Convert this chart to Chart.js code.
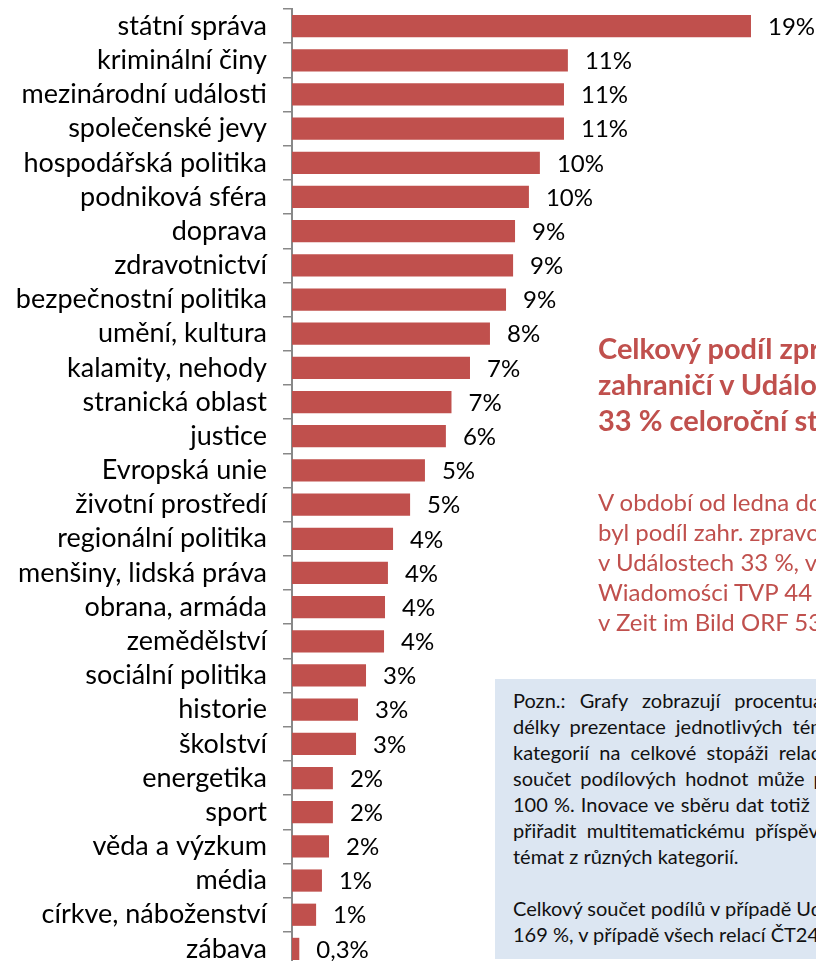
<!DOCTYPE html>
<html lang="cs">
<head>
<meta charset="utf-8">
<script src="https://cdn.jsdelivr.net/npm/chart.js@4.4.1/dist/chart.umd.min.js"></script>
<style>
  html, body { margin: 0; padding: 0; background: #fff; overflow: hidden; }
  #wrap { position: relative; width: 816px; height: 961px; overflow: hidden; }
  #chartBox { position: absolute; left: 0; top: 0; width: 816px; height: 966px; }
  .head { position: absolute; left: 598px; top: 330px; font-family: Lato, sans-serif; font-weight: bold;
          font-size: 29px; line-height: 36px; color: #c0504d; white-space: nowrap; }
  .para { position: absolute; left: 598px; top: 487px; font-family: Lato, sans-serif;
          font-size: 24px; line-height: 30px; color: #c0504d; white-space: nowrap; }
  .note { position: absolute; left: 495px; top: 679px; width: 420px; height: 280px; background: #dce6f2; }
  .note .ln { position: absolute; left: 18px; font-family: Lato, sans-serif; font-size: 20px;
              line-height: 26px; color: #111; white-space: nowrap; }
</style>
</head>
<body>
<div id="wrap">
  <div id="chartBox"><canvas id="c" width="816" height="966"></canvas></div>
  <div class="head">Celkový podíl zpráv ze<br>zahraničí v Událostech<br>33 % celoroční stopáže</div>
  <div class="para">V období od ledna do<br>byl podíl zahr. zpravodajství<br>v Událostech 33 %, v<br>Wiadomości TVP 44 %<br>v Zeit im Bild ORF 53 %</div>
  <div class="note">
    <div class="ln" style="top:8px; word-spacing:9px">Pozn.: Grafy zobrazují procentuální podíl</div>
    <div class="ln" style="top:34px; word-spacing:5px">délky prezentace jednotlivých témat a</div>
    <div class="ln" style="top:60px; word-spacing:5px">kategorií na celkové stopáži relací.</div>
    <div class="ln" style="top:86px; word-spacing:4px">součet podílových hodnot může přesáhnout</div>
    <div class="ln" style="top:112px; word-spacing:1px">100 %. Inovace ve sběru dat totiž umožňuje</div>
    <div class="ln" style="top:138px; word-spacing:5px">přiřadit multitematickému příspěvku více</div>
    <div class="ln" style="top:164px">témat z různých kategorií.</div>
    <div class="ln" style="top:216px">Celkový součet podílů v případě Událostí</div>
    <div class="ln" style="top:242px">169 %, v případě všech relací ČT24</div>
  </div>
</div>
<script>
const categories = ['státní správa','kriminální činy','mezinárodní události','společenské jevy','hospodářská politika','podniková sféra','doprava','zdravotnictví','bezpečnostní politika','umění, kultura','kalamity, nehody','stranická oblast','justice','Evropská unie','životní prostředí','regionální politika','menšiny, lidská práva','obrana, armáda','zemědělství','sociální politika','historie','školství','energetika','sport','věda a výzkum','média','církve, náboženství','zábava'];
const shares = [18.85, 11.33, 11.17, 11.17, 10.18, 9.73, 9.16, 9.08, 8.79, 8.13, 7.31, 6.55, 6.32, 5.46, 4.85, 4.15, 3.94, 3.82, 3.78, 3.04, 2.71, 2.63, 1.68, 1.68, 1.52, 1.23, 0.99, 0.3];
const xMax = 21.52;

function fmt(v) {
  return v < 0.5 ? v.toFixed(1).replace('.', ',') + '%' : Math.round(v) + '%';
}

const valueLabels = {
  id: 'valueLabels',
  afterDatasetsDraw(chart) {
    const ctx = chart.ctx;
    const meta = chart.getDatasetMeta(0);
    ctx.save();
    ctx.font = '24px Lato';
    ctx.fillStyle = '#000';
    ctx.textAlign = 'left';
    ctx.textBaseline = 'middle';
    meta.data.forEach((bar, i) => {
      ctx.fillText(fmt(shares[i]), bar.x + 17, bar.y + 1);
    });
    ctx.restore();
  }
};

function draw() {
  new Chart(document.getElementById('c'), {
    type: 'bar',
    data: {
      labels: categories,
      datasets: [{
        data: shares,
        backgroundColor: '#c0504d',
        borderWidth: 0,
        barPercentage: 0.65,
        categoryPercentage: 1
      }]
    },
    options: {
      indexAxis: 'y',
      responsive: false,
      animation: false,
      devicePixelRatio: 1,
      layout: { padding: { top: 9, right: 0, bottom: 0, left: 0 } },
      plugins: { legend: { display: false }, tooltip: { enabled: false } },
      scales: {
        x: { display: false, min: 0, max: xMax },
        y: {
          afterFit(scale) { scale.width = 292; scale.paddingTop = 0; scale.paddingBottom = 0; },
          grid: { display: true, drawOnChartArea: false, drawTicks: true, tickLength: 9, color: '#888', lineWidth: 1.5 },
          border: { display: true, color: '#888', width: 2 },
          ticks: { color: '#000', padding: 16, font: { family: 'Lato', size: 27 }, autoSkip: false }
        }
      }
    },
    plugins: [valueLabels]
  });
}
if (document.fonts && document.fonts.load) {
  Promise.all([document.fonts.load('27px Lato'), document.fonts.load('bold 29px Lato')]).then(draw, draw);
} else { draw(); }
</script>
</body>
</html>
